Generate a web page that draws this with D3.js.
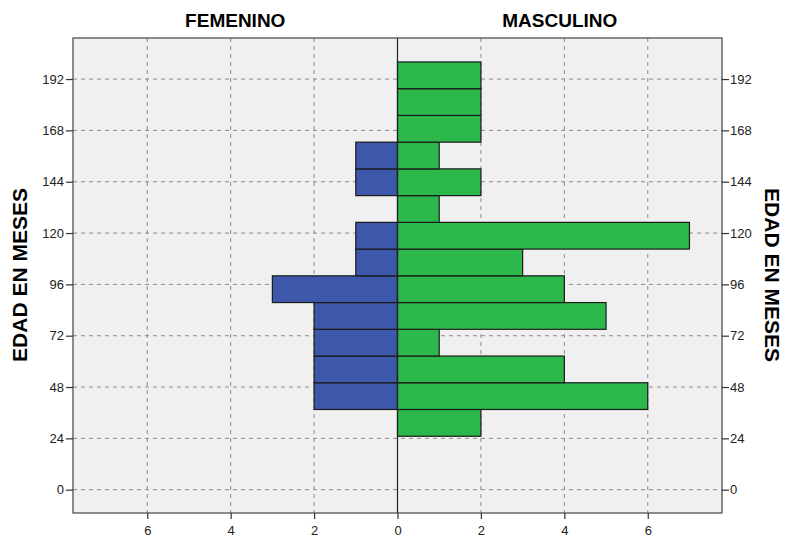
<!DOCTYPE html>
<html><head><meta charset="utf-8">
<script src="https://cdn.jsdelivr.net/npm/d3@7"></script>
<style>body{margin:0;background:#fff}svg{display:block}</style>
</head><body>
<script>
// Age bins (months), width 12.5, lower bounds
const binStarts = [25, 37.5, 50, 62.5, 75, 87.5, 100, 112.5, 125, 137.5, 150, 162.5, 175, 187.5];
const binWidth = 12.5;
const femenino = [0, 2, 2, 2, 2, 3, 1, 1, 0, 1, 1, 0, 0, 0];
const masculino = [2, 6, 4, 1, 5, 4, 3, 7, 1, 2, 1, 2, 2, 2];
const yTicks = [0, 24, 48, 72, 96, 120, 144, 168, 192];
const xTicks = [-6, -4, -2, 0, 2, 4, 6];
const groupTitles = ["FEMENINO", "MASCULINO"];
const axisTitle = "EDAD EN MESES";

const W = 785, H = 542;
const m = {l: 73, r: 63, t: 38, b: 29};
const svg = d3.select("body").append("svg").attr("width", W).attr("height", H)
  .style("font-family", "Arial, 'Liberation Sans', sans-serif");

const x = d3.scaleLinear().domain([-7.78, 7.78]).range([m.l, W - m.r]);
const y = d3.scaleLinear().domain([-10.9, 211.2]).range([H - m.b, m.t]);

// background
svg.append("rect").attr("x", m.l).attr("y", m.t).attr("width", W - m.r - m.l).attr("height", H - m.b - m.t)
  .attr("fill", "#f0f0f0");

// grid
const g = svg.append("g");
g.selectAll(".hg").data(yTicks).join("line")
  .attr("x1", m.l).attr("x2", W - m.r).attr("y1", d => y(d)).attr("y2", d => y(d))
  .attr("stroke", "#8c8c8c").attr("stroke-dasharray", "4,4");
g.selectAll(".vg").data(xTicks.filter(d => d !== 0)).join("line")
  .attr("y1", m.t).attr("y2", H - m.b).attr("x1", d => x(d)).attr("x2", d => x(d))
  .attr("stroke", "#8c8c8c").attr("stroke-dasharray", "4,4");

// bars
const femData = binStarts.map((b, i) => ({b, v: femenino[i]})).filter(d => d.v > 0);
const masData = binStarts.map((b, i) => ({b, v: masculino[i]})).filter(d => d.v > 0);
svg.append("g").selectAll("rect").data(femData).join("rect")
  .attr("x", d => x(-d.v)).attr("width", d => x(0) - x(-d.v))
  .attr("y", d => y(d.b + binWidth)).attr("height", d => y(d.b) - y(d.b + binWidth))
  .attr("fill", "#3d57aa").attr("stroke", "#1a1a1a").attr("stroke-width", 1.2);
svg.append("g").selectAll("rect").data(masData).join("rect")
  .attr("x", x(0)).attr("width", d => x(d.v) - x(0))
  .attr("y", d => y(d.b + binWidth)).attr("height", d => y(d.b) - y(d.b + binWidth))
  .attr("fill", "#2db84b").attr("stroke", "#1a1a1a").attr("stroke-width", 1.2);

// center line
svg.append("line").attr("x1", x(0)).attr("x2", x(0)).attr("y1", m.t).attr("y2", H - m.b)
  .attr("stroke", "#222").attr("stroke-width", 1.2);

// frame
svg.append("rect").attr("x", m.l).attr("y", m.t).attr("width", W - m.r - m.l).attr("height", H - m.b - m.t)
  .attr("fill", "none").attr("stroke", "#444").attr("stroke-width", 1.2);

// axes
const fmtAbs = d => Math.abs(d);
const ax = svg.append("g").attr("transform", `translate(0,${H - m.b})`)
  .call(d3.axisBottom(x).tickValues(xTicks).tickFormat(fmtAbs).tickSize(6).tickSizeOuter(0));
const ayl = svg.append("g").attr("transform", `translate(${m.l},0)`)
  .call(d3.axisLeft(y).tickValues(yTicks).tickSize(7).tickSizeOuter(0));
const ayr = svg.append("g").attr("transform", `translate(${W - m.r},0)`)
  .call(d3.axisRight(y).tickValues(yTicks).tickSize(7).tickSizeOuter(0));
[ax, ayl, ayr].forEach(a => {
  a.select(".domain").remove();
  a.selectAll("line").attr("stroke", "#333").attr("stroke-width", 1.2);
  a.selectAll("text").attr("fill", "#222").style("font-size", "13px").style("font-family", "Arial, 'Liberation Sans', sans-serif");
});
ax.selectAll("text").attr("y", 13).attr("dy", "0.71em");
ayl.selectAll("text").attr("x", -9);
ayr.selectAll("text").attr("x", 8);

// titles
svg.append("text").attr("x", (x(0) + m.l) / 2).attr("y", 27).attr("text-anchor", "middle")
  .style("font-size", "19px").style("font-weight", "bold").text(groupTitles[0]);
svg.append("text").attr("x", (x(0) + W - m.r) / 2).attr("y", 27).attr("text-anchor", "middle")
  .style("font-size", "19px").style("font-weight", "bold").text(groupTitles[1]);

const cy = 275;
svg.append("text").attr("transform", `translate(27,${cy}) rotate(-90)`).attr("text-anchor", "middle")
  .style("font-size", "21px").style("font-weight", "bold").text(axisTitle);
svg.append("text").attr("transform", `translate(765,${cy}) rotate(90)`).attr("text-anchor", "middle")
  .style("font-size", "21px").style("font-weight", "bold").text(axisTitle);
</script>
</body></html>
